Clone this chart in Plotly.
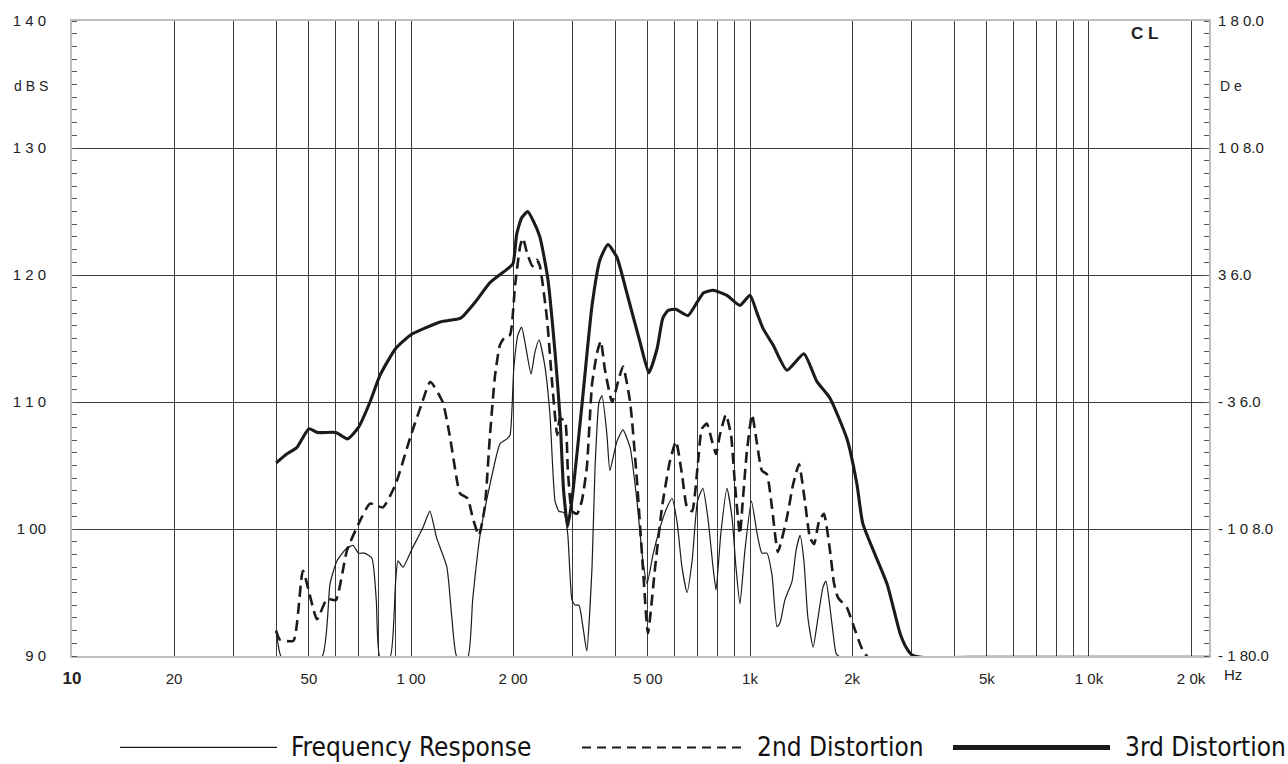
import plotly.graph_objects as go

# ---------------- data ----------------
freq_fr = [40, 40.5, 41.5, 54.5, 57.7, 60.5, 64.7, 67.5, 70, 73, 76.7, 79, 81, 86.7,
           90, 91.5, 94.7, 101, 108.4, 113.7, 119, 127.6, 132, 136.7, 147, 152, 160, 171,
           183, 192, 196, 201, 206.8, 212, 218.5, 226, 232, 238.6, 248, 257, 266, 273,
           282.6, 290, 298.5, 305, 313, 321.5, 330, 342, 349, 358.6, 366, 378.5, 386,
           405, 422, 443, 464, 483, 497, 517.6, 542.8, 569, 589, 609, 630, 652, 675, 700,
           726, 751, 778, 794, 820, 855, 885, 909, 934, 966, 1010, 1050, 1084, 1122, 1161,
           1201, 1226, 1267, 1331, 1367, 1405, 1442, 1482, 1535, 1587, 1641, 1675, 1722,
           1758, 1795, 1850, 3000, 6000, 12000, 22600]
db_fr = [92.0, 91.0, 89.9, 89.9, 95.7, 97.5, 98.5, 98.7, 98.1, 98.1, 97.7, 94.4, 89.9, 89.9,
         95.7, 97.5, 97.0, 98.5, 100.1, 101.4, 99.3, 97.0, 93.0, 89.9, 89.9, 94.4, 99.6, 103.5,
         106.7, 107.1, 107.4, 112.6, 115.3, 115.9, 114.2, 112.2, 113.9, 114.9, 112.9, 109.0, 102.2, 101.4,
         101.3, 99.6, 94.4, 94.0, 94.0, 92.3, 90.4, 97.0, 104.8, 110.0, 110.5, 107.4, 104.6,
         106.9, 107.8, 106.4, 102.2, 97.5, 95.7, 98.0, 100.1, 101.7, 102.4, 100.6, 97.0, 95.0, 97.5, 102.2,
         103.2, 100.9, 97.0, 95.2, 99.6, 103.2, 100.9, 97.0, 94.1, 98.3, 102.2, 99.6, 98.1, 98.1, 96.4,
         92.3, 92.6, 94.4, 95.9, 98.3, 99.5, 97.5, 93.0, 90.7, 93.0, 95.4, 95.9, 93.8,
         91.8, 90.2, 89.9, 89.9, 89.9, 89.9, 89.9]

freq_2nd = [40, 41, 45, 48, 52.8, 56.5, 60, 64.7, 70, 75.7, 82.6, 90, 100, 108, 114, 124, 130,
            136.7, 139.5, 147, 152, 158.6, 165, 171, 177, 183, 189, 196, 202.8, 210, 214, 219.6,
            228, 235, 240, 252, 261, 270, 275, 284.6, 290, 298.5, 309, 319, 330, 342, 354, 363,
            373, 392, 410, 422, 443, 464, 483, 500, 525, 550, 580, 605, 630, 652, 675, 700, 721,
            746, 773, 794, 815, 849, 879, 903, 934, 952, 979, 1014, 1049, 1084, 1122, 1161, 1209,
            1285, 1340, 1395, 1452, 1503, 1545, 1598, 1652, 1722, 1770, 1818, 1932, 2013, 2138,
            2230, 3500, 7000, 14000, 22600]
db_2nd = [92.0, 91.3, 91.2, 96.7, 92.9, 94.5, 94.4, 98.3, 100.4, 102.0, 101.7, 103.5, 107.4, 110.0, 111.6, 110.0, 107.4,
          103.8, 102.8, 102.4, 100.9, 99.5, 101.7, 107.4, 112.1, 114.5, 115.1, 115.3, 119.2, 122.3, 122.9, 121.8,
          120.7, 121.2, 120.7, 116.5, 111.4, 107.4, 108.7, 108.5, 104.8, 101.4, 101.2, 102.2, 104.8, 111.4, 113.9, 114.8,
          112.6, 110.0, 111.8, 112.8, 110.0, 103.8, 97.0, 91.8, 97.0, 101.7, 105.3, 106.9, 104.3, 101.7, 101.4, 104.8, 107.9,
          108.3, 106.9, 105.9, 107.4, 109.0, 107.4, 103.5, 99.6, 102.2, 106.1, 109.0, 106.7, 104.6, 104.3, 101.7, 98.2,
          100.9, 103.5, 105.1, 102.2, 99.3, 98.8, 100.6, 101.2, 98.3, 95.7, 94.6, 93.8, 92.5, 90.6,
          89.9, 89.9, 89.9, 89.9, 89.9]

freq_3rd = [40, 43, 46, 50, 53, 60, 65, 70, 75.7, 81, 90, 100, 122, 140, 155, 171, 193, 200,
            205, 212, 221, 230, 240, 253, 266, 275, 282, 290, 300, 320, 342, 361, 381, 405,
            433, 474, 503, 532, 553, 573, 604, 656, 700, 730, 778, 855, 934, 1000, 1049, 1092,
            1169, 1285, 1442, 1576, 1722, 1932, 2068, 2153, 2535, 2770, 2900, 3000, 3200, 5000,
            9000, 15000, 22600]
db_3rd = [105.2, 105.9, 106.4, 107.9, 107.6, 107.6, 107.1, 108.0, 110.0, 112.1, 114.2, 115.3, 116.3, 116.6, 117.9, 119.4, 120.5, 120.9,
          123.2, 124.5, 125.0, 124.2, 123.0, 119.8, 113.9, 108.9, 103.0, 100.2, 102.8, 110.0, 117.6, 121.2, 122.4, 121.4,
          118.6, 114.7, 112.3, 114.2, 116.6, 117.2, 117.3, 116.8, 117.9, 118.6, 118.8, 118.4, 117.6, 118.4, 117.0, 115.8,
          114.5, 112.5, 113.8, 111.6, 110.3, 107.1, 103.5, 100.4, 95.7, 91.8, 90.6, 90.1, 89.9, 89.9,
          89.9, 89.9, 89.9]

x_tick_vals = [10, 20, 30, 40, 50, 60, 70, 80, 90, 100, 200, 300, 400, 500, 600, 700, 800, 900,
               1000, 2000, 3000, 4000, 5000, 6000, 7000, 8000, 9000, 10000, 20000]
x_tick_text = ["<b><span style='font-size:17px'>10</span></b>", "20", "", "", "50", "", "", "", "", "1 00",
               "2 00", "", "", "5 00", "", "", "", "",
               "1k", "2k", "", "", "5k", "", "", "", "", "1 0k", "2 0k"]
y_left_vals = [90, 100, 110, 120, 130, 140]
y_left_text = ["9 0", "1 00", "1 1 0", "1 2 0", "1 3 0", "1 4 0"]
y_right_vals = [-180, -108, -36, 36, 108, 180]
y_right_text = ["- 1 80.0", "- 1 0 8.0", "- 3 6.0", "3 6.0", "1 0 8.0", "1 8 0.0"]

series_names = ["Frequency Response", "2nd Distortion", "3rd Distortion"]

# ---------------- figure ----------------
INK = "#1b1b1b"
GRID = "#3c3c3c"
FRAME = "#bdbdbd"
FONT = "Liberation Sans, Arial, sans-serif"

fig = go.Figure()
fig.add_trace(go.Scatter(x=freq_fr, y=db_fr, mode="lines", name=series_names[0],
                         line=dict(color=INK, width=1.2, shape="spline", smoothing=0.5)))
fig.add_trace(go.Scatter(x=freq_2nd, y=db_2nd, mode="lines", name=series_names[1],
                         line=dict(color=INK, width=2.6, dash="11px,6px", shape="spline", smoothing=0.5)))
fig.add_trace(go.Scatter(x=freq_3rd, y=db_3rd, mode="lines", name=series_names[2],
                         line=dict(color=INK, width=3.1, shape="spline", smoothing=0.5)))
# invisible trace to activate the right-hand axis
fig.add_trace(go.Scatter(x=[100], y=[0], yaxis="y2", mode="markers",
                         marker=dict(opacity=0), hoverinfo="skip", showlegend=False))

fig.update_layout(
    width=1288, height=764,
    margin=dict(l=72, r=79, t=17, b=108),
    paper_bgcolor="white", plot_bgcolor="white",
    showlegend=False,
    font=dict(family=FONT, color="#222"),
    xaxis=dict(type="log", range=[1, 4.354], tickmode="array", tickvals=x_tick_vals, ticktext=x_tick_text,
               showgrid=True, gridcolor=GRID, gridwidth=1.2, zeroline=False,
               showline=True, linecolor=FRAME, linewidth=2, mirror=True, ticks="",
               ticklabelstandoff=8, tickfont=dict(family=FONT, size=15, color="#222")),
    yaxis=dict(range=[90, 140], tickmode="array", tickvals=y_left_vals, ticktext=y_left_text,
               showgrid=True, gridcolor=GRID, gridwidth=1.2, zeroline=False,
               showline=True, linecolor=FRAME, linewidth=2, mirror=True, ticks="",
               minor=dict(dtick=1, tick0=90, ticks="inside", ticklen=5, tickcolor="#555", tickwidth=1, showgrid=False),
               ticklabelstandoff=21, tickfont=dict(family=FONT, size=15, color="#222")),
    yaxis2=dict(overlaying="y", side="right", range=[-180, 180], tickmode="array",
                tickvals=y_right_vals, ticktext=y_right_text, showgrid=False, zeroline=False,
                showline=False, ticks="",
                minor=dict(dtick=7.2, tick0=-180, ticks="inside", ticklen=5, tickcolor="#555", tickwidth=1, showgrid=False),
                ticklabelstandoff=8, tickfont=dict(family=FONT, size=15, color="#222")),
)

PW = 1137.0
PH = 639.0
def px(xp):
    return (xp - 72) / PW
def py(yp):
    return (656 - yp) / PH

ann = [
    dict(text="d B S", x=px(50), y=py(82), xanchor="right", yanchor="middle", font=dict(size=14)),
    dict(text="D e", x=px(1218), y=py(82), xanchor="left", yanchor="middle", font=dict(size=14)),
    dict(text="<b>C L</b>", x=px(1144), y=py(30), xanchor="center", yanchor="middle", font=dict(size=17)),
    dict(text="Hz", x=px(1222), y=py(675), xanchor="left", yanchor="middle", font=dict(size=15)),
]
LEG_FONT = "Liberation Sans Narrow, DejaVu Sans Condensed, Arial Narrow, sans-serif"
leg_y = py(748)
legend_items = [
    (120, 277, 289, dict(color=INK, width=1.3)),
    (582, 747, 755, dict(color=INK, width=2, dash="9px,6px")),
    (953, 1110, 1123, dict(color=INK, width=5)),
]
for (x0, x1, xt, ln), name in zip(legend_items, series_names):
    fig.add_shape(type="line", xref="paper", yref="paper", x0=px(x0), x1=px(x1), y0=leg_y, y1=leg_y, line=ln)
    ann.append(dict(text=name, x=px(xt), y=leg_y, xanchor="left", yanchor="middle",
                    font=dict(family=LEG_FONT, size=26, color="#111")))

for a in ann:
    a.setdefault("xref", "paper")
    a.setdefault("yref", "paper")
    a["showarrow"] = False
    fig.add_annotation(**a)

fig.write_html("out.html", config={"displayModeBar": False},
               post_script="document.body.style.margin='0px';document.body.style.overflow='hidden';")
